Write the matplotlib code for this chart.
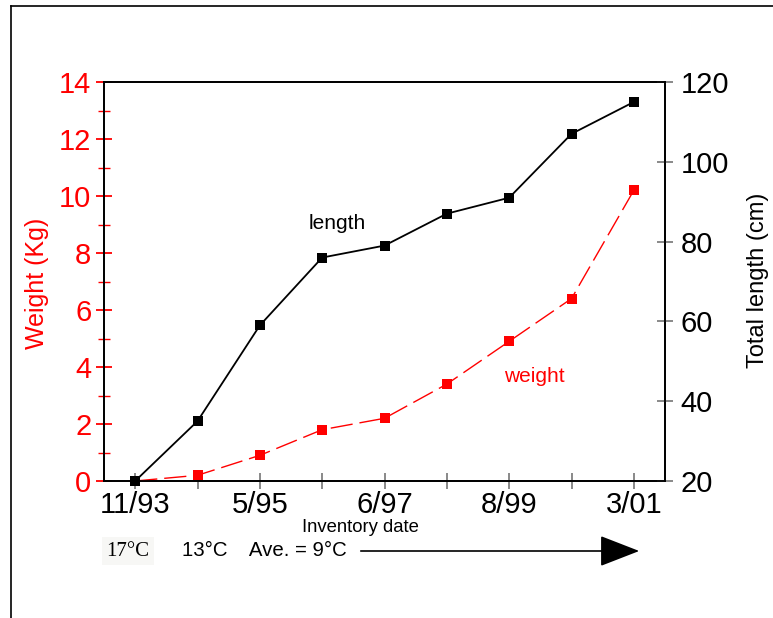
#! usr/bin/env python3

import numpy as np
import matplotlib
matplotlib.use("Agg")
import matplotlib.pyplot as plt
from matplotlib.lines import Line2D
from matplotlib.ticker import MultipleLocator

plt.rcParams['font.family'] = ['Liberation Sans', 'DejaVu Sans']

#	inventory dates (every point), only every other one is labelled
dates = ['11/93', '', '5/95', '', '6/97', '', '8/99', '', '3/01']
weight = [0.0, 0.2, 0.9, 1.8, 2.2, 3.4, 4.9, 6.4, 10.2]
length = [20, 35, 59, 76, 79, 87, 91, 107, 115]

x = np.arange(len(dates))

fig = plt.figure(figsize=(7.73, 6.18), dpi=100)
ax = fig.add_axes([104/773, 1-481/618, 561/773, 399/618])
ax2 = ax.twinx()

#	weight on the left axis (red, dashed)
ax.plot(x, weight, color='red', lw=1.0, dashes=(16, 5), marker='s',
        markersize=6.5, markeredgewidth=0, clip_on=False, zorder=3)
ax.set_ylim(0, 14)
ax.set_xlim(-0.5, 8.5)
ax.yaxis.set_major_locator(MultipleLocator(2))
ax.yaxis.set_minor_locator(MultipleLocator(1))
ax.tick_params(axis='y', which='major', colors='red', direction='inout',
               length=12, width=1.3, labelsize=21, pad=3)
ax.tick_params(axis='y', which='minor', colors='red', direction='inout',
               length=8, width=1.0)
ax.set_ylabel("Weight (Kg)", color='red', fontsize=18)
ax.yaxis.set_label_coords(-0.098, 0.496)

ax.set_xticks(x)
ax.set_xticklabels(dates)
ax.tick_params(axis='x', colors='#808080', direction='inout', length=12,
               width=1.3, labelsize=21, labelcolor='black', pad=1)

#	length on the right axis (black, solid)
ax2.plot(x, length, color='black', lw=1.3, marker='s', markersize=7,
         markeredgewidth=0, clip_on=False, zorder=4)
ax2.set_ylim(20, 120)
ax2.yaxis.set_major_locator(MultipleLocator(20))
ax2.tick_params(axis='y', colors='#808080', direction='inout', length=12,
                width=1.3, labelsize=21, labelcolor='black', pad=5)
ax2.set_ylabel("Total length (cm)", fontsize=17)
ax2.yaxis.set_label_coords(1.146, 0.504)

for a in (ax, ax2):
    for s in a.spines.values():
        s.set_color('black')
        s.set_linewidth(1.3)

ax2.text(3.24, 84.5, "length", fontsize=15, ha='center', va='center')
ax.text(6.41, 3.68, "weight", fontsize=15, color='red', ha='center', va='center')

fig.text(360/773, 1-527/618, "Inventory date", fontsize=13.3, ha='center', va='center')

#	temperature notes under the axis
fig.text(128/773, 1-551/618, "17°C", family='Liberation Serif', fontsize=15,
         ha='center', va='center',
         bbox=dict(facecolor='#f7f7f5', edgecolor='none', pad=3))
fig.text(182/773, 1-550/618, "13°C    Ave. = 9°C", fontsize=14.7,
         ha='left', va='center')
fig.add_artist(matplotlib.patches.FancyArrowPatch(
    (358/773, 1-551/618), (642/773, 1-551/618), transform=fig.transFigure,
    arrowstyle='-|>,head_length=1.8,head_width=0.7', mutation_scale=14,
    color='black', lw=1.2))

#	frame lines round the figure
fig.add_artist(Line2D([11/773, 11/773], [0, 1-6/618], color='black', lw=1.2,
                      transform=fig.transFigure))
fig.add_artist(Line2D([11/773, 1], [1-6/618, 1-6/618], color='black', lw=1.2,
                      transform=fig.transFigure))

fig.savefig("out.png", dpi=100)
plt.close()
